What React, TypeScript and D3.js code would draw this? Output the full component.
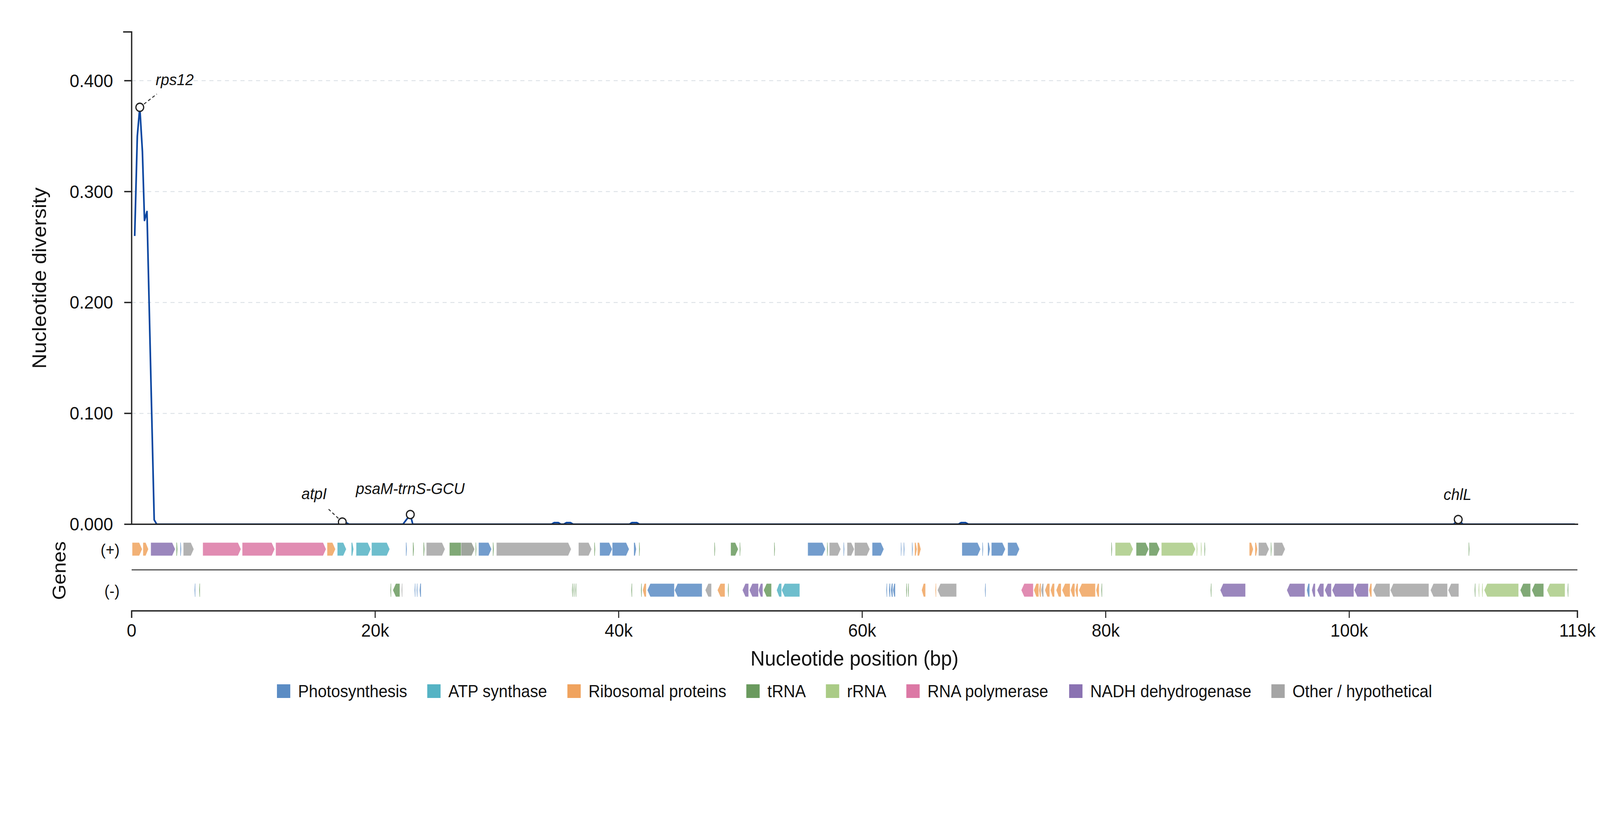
import React, { useMemo } from "react";
import * as d3 from "d3";

const genomeLength = 118740;

// sliding-window nucleotide diversity (window midpoint in bp, pi)
const windowPos = [
  250, 465, 669, 885, 1055, 1259, 1852, 2060,
  17000, 17300, 17500, 17860,
  22280, 22886, 23090,
  34490, 34700, 35040, 35250,
  35490, 35710, 36040, 36260,
  40880, 41090, 41490, 41700,
  67900, 68120, 68490, 68720,
  108570, 108950, 109330,
  118530,
];
const windowPi = [
  0.26, 0.35, 0.376, 0.336, 0.274, 0.282, 0.004, 0,
  0, 0.002, 0.002, 0,
  0, 0.0088, 0,
  0, 0.0014, 0.0014, 0,
  0, 0.0014, 0.0014, 0,
  0, 0.0014, 0.0014, 0,
  0, 0.0014, 0.0014, 0,
  0, 0.0043, 0,
  0,
];

// highlighted peaks
const peakGenes = ["rps12", "atpI", "psaM-trnS-GCU", "chlL"];
const peakPos = [669, 17300, 22886, 108950];
const peakPi = [0.376, 0.002, 0.0088, 0.0043];

const categoryKeys = ["photo", "atp", "ribo", "trna", "rrna", "rnap", "nadh", "other"];
const categoryNames = [
  "Photosynthesis",
  "ATP synthase",
  "Ribosomal proteins",
  "tRNA",
  "rRNA",
  "RNA polymerase",
  "NADH dehydrogenase",
  "Other / hypothetical",
];
const categoryColors = ["#5b8cc4", "#55b3c4", "#f0a35e", "#6a9a5e", "#aacb86", "#dc78a5", "#8a72b2", "#a5a5a5"];

// genes on the (+) strand: [start, end, category]
const plusGenes: [number, number, string][] = [
  [40, 870, "ribo"], [930, 1380, "ribo"], [1570, 3580, "nadh"], [3680, 3760, "trna"],
  [4000, 4070, "photo"], [4240, 5110, "other"], [5840, 8980, "rnap"], [9080, 11750, "rnap"],
  [11830, 15970, "rnap"], [16050, 16740, "ribo"], [16890, 17630, "atp"], [18040, 18230, "atp"],
  [18440, 19640, "atp"], [19700, 21200, "atp"], [22530, 22600, "photo"], [23100, 23180, "trna"],
  [23970, 24050, "trna"], [24200, 25740, "other"], [26100, 28170, "trna"], [27060, 28170, "other"],
  [28250, 28310, "trna"], [28490, 29560, "photo"], [29670, 29740, "trna"], [29960, 36100, "other"],
  [36700, 37780, "other"], [38000, 38070, "trna"], [38440, 39470, "photo"], [39470, 40860, "photo"],
  [41240, 41450, "photo"], [41680, 41740, "trna"], [47860, 47920, "trna"], [49200, 49820, "trna"],
  [49940, 50000, "trna"], [52770, 52830, "trna"], [55530, 56980, "photo"], [57120, 57180, "trna"],
  [57300, 58240, "other"], [58470, 58530, "photo"], [58760, 59350, "other"], [59370, 60630, "other"],
  [60820, 61780, "photo"], [63180, 63230, "photo"], [63410, 63470, "photo"], [64090, 64150, "photo"],
  [64310, 64500, "ribo"], [64540, 64820, "ribo"], [68190, 69720, "photo"], [69870, 69930, "photo"],
  [70310, 70500, "photo"], [70610, 71760, "photo"], [71950, 72920, "photo"], [80460, 80520, "trna"],
  [80780, 82250, "rrna"], [82500, 83530, "trna"], [83550, 84440, "trna"], [84570, 87370, "rrna"],
  [87470, 87530, "rrna"], [87820, 87880, "rrna"], [88110, 88170, "trna"], [91790, 92120, "ribo"],
  [92260, 92460, "ribo"], [92550, 93420, "other"], [93560, 93620, "trna"], [93800, 94740, "other"],
  [109810, 109870, "trna"],
];

// genes on the (-) strand: [start, end, category]
const minusGenes: [number, number, string][] = [
  [5170, 5230, "photo"], [5550, 5610, "trna"], [21250, 21310, "trna"], [21450, 22030, "trna"],
  [22170, 22230, "other"], [23240, 23300, "photo"], [23410, 23470, "photo"], [23650, 23760, "photo"],
  [36170, 36230, "trna"], [36300, 36360, "trna"], [36450, 36510, "trna"], [41040, 41100, "trna"],
  [41830, 41890, "trna"], [41970, 42260, "ribo"], [42350, 44570, "photo"], [44590, 46850, "photo"],
  [47110, 47620, "other"], [48110, 48730, "ribo"], [48970, 49030, "trna"], [50160, 50670, "nadh"],
  [50730, 51480, "nadh"], [51480, 51840, "nadh"], [51900, 52550, "trna"], [52970, 53380, "atp"],
  [53380, 54870, "atp"], [61980, 62040, "photo"], [62200, 62300, "photo"], [62360, 62500, "photo"],
  [62520, 62720, "photo"], [63610, 63670, "trna"], [63760, 63820, "trna"], [64880, 65200, "ribo"],
  [66010, 66070, "ribo"], [66180, 67750, "other"], [70080, 70140, "photo"], [73060, 74050, "rnap"],
  [74090, 74500, "ribo"], [74530, 74670, "ribo"], [74690, 74900, "other"], [75000, 75400, "ribo"],
  [75460, 75790, "ribo"], [75930, 76340, "ribo"], [76410, 77070, "ribo"], [77110, 77460, "ribo"],
  [77500, 77730, "ribo"], [77790, 79150, "ribo"], [79210, 79460, "ribo"], [79640, 79700, "trna"],
  [88620, 88680, "trna"], [89400, 91480, "nadh"], [94870, 96360, "nadh"], [96510, 96750, "photo"],
  [96920, 97210, "nadh"], [97360, 97910, "nadh"], [97980, 98530, "nadh"], [98590, 100380, "nadh"],
  [100410, 101570, "nadh"], [101620, 101850, "ribo"], [101960, 103340, "other"], [103370, 106540, "other"],
  [106670, 108070, "other"], [108120, 109000, "other"], [110300, 110360, "trna"], [110620, 110680, "rrna"],
  [110900, 110960, "rrna"], [111080, 113910, "rrna"], [114040, 114890, "trna"], [114990, 115970, "trna"],
  [116230, 117720, "rrna"], [117930, 117990, "trna"],
];

// label placement around each peak (px offsets from the point)
const labelLayout: Record<string, { dx: number; dy: number; anchor: string; leader?: [number, number] }> = {
  rps12: { dx: 43, dy: -57, anchor: "start", leader: [46, -34] },
  atpI: { dx: -76, dy: -59, anchor: "middle", leader: [-37, -33] },
  "psaM-trnS-GCU": { dx: 0, dy: -52, anchor: "middle" },
  chlL: { dx: -2, dy: -50, anchor: "middle" },
};

const FONT = '"Liberation Sans", Arial, sans-serif';
const W = 4322;
const H = 2102;
const left = 355.6;
const right = 4261;
const top = 81.7;
const zeroY = 1342.3;
const plusY = 1406;
const minusY = 1511;
const sepY = 1459;
const axisY = 1564;
const geneH = 34;
const lineColor = "#0d47a1";
const axisColor = "#222";

function genePath(x0: number, x1: number, yc: number, strand: number) {
  const w = Math.max(x1 - x0, 1.6);
  if (strand > 0) x1 = x0 + w;
  else x0 = x1 - w;
  const head = Math.min(8, w * 0.5);
  const t = yc - geneH / 2;
  const b = yc + geneH / 2;
  if (strand > 0) return `M${x0},${t}H${x1 - head}L${x1},${yc}L${x1 - head},${b}H${x0}Z`;
  return `M${x1},${t}H${x0 + head}L${x0},${yc}L${x0 + head},${b}H${x1}Z`;
}

export default function App() {
  const x = useMemo(() => d3.scaleLinear().domain([0, genomeLength]).range([left, right]), []);
  const y = useMemo(() => d3.scaleLinear().domain([0, 0.444]).range([zeroY, top]), []);
  const color = useMemo(() => d3.scaleOrdinal<string, string>().domain(categoryKeys).range(categoryColors), []);

  const linePath = useMemo(() => {
    const pts = windowPos.map((p, i) => [p, windowPi[i]] as [number, number]);
    return d3
      .line<[number, number]>()
      .x((d) => x(d[0]))
      .y((d) => y(d[1]))(pts);
  }, [x, y]);

  const yTicks = y.ticks(5);
  const xTicks = [...d3.range(0, genomeLength, 20000), genomeLength];
  const fmtY = d3.format(".3f");
  const fmtX = (v: number) => (v === 0 ? "0" : `${Math.round(v / 1000)}k`);

  // legend layout from measured text widths
  const legendFont = 43.5;
  const legend = useMemo(() => {
    const ctx = document.createElement("canvas").getContext("2d")!;
    ctx.font = `${legendFont}px ${FONT}`;
    const sw = 36;
    const gapText = 21;
    const gapItem = 54;
    const widths = categoryNames.map((n) => ctx.measureText(n).width);
    const total = widths.reduce((s, w) => s + sw + gapText + w, 0) + gapItem * (widths.length - 1);
    let cx = (left + right) / 2 - total / 2;
    return widths.map((w, i) => {
      const item = { x: cx, name: categoryNames[i], color: categoryColors[i] };
      cx += sw + gapText + w + gapItem;
      return item;
    });
  }, []);

  const renderGenes = (genes: [number, number, string][], strand: number, yc: number) =>
    genes.map(([s, e, c], i) => {
      const x0 = x(s);
      const x1 = x(e);
      return (
        <path
          key={`${strand}-${i}`}
          d={genePath(x0, x1, yc, strand)}
          fill={color(c)}
          fillOpacity={0.85}
          stroke={x1 - x0 > 6 ? "#fff" : "none"}
          strokeWidth={1}
          strokeOpacity={0.8}
        />
      );
    });

  return (
    <svg
      width="100vw"
      height="100vh"
      viewBox={`0 0 ${W} ${H}`}
      preserveAspectRatio="none"
      style={{ position: "fixed", top: 0, left: 0, background: "#fff", display: "block" }}
      fontFamily={FONT}
    >
      <defs>
        <clipPath id="plot-clip">
          <rect x={left - 30} y={0} width={right - left + 60} height={zeroY} />
        </clipPath>
      </defs>

      {/* grid */}
      {yTicks
        .filter((t) => t > 0)
        .map((t) => (
          <line key={t} x1={left} x2={right} y1={y(t)} y2={y(t)} stroke="#d7dde3" strokeWidth={2} strokeDasharray="11,10" />
        ))}

      {/* diversity line */}
      <g clipPath="url(#plot-clip)">
        <path d={linePath ?? ""} fill="none" stroke={lineColor} strokeWidth={4.5} strokeLinejoin="round" />
        {peakGenes.map((g, i) => {
          const px = x(peakPos[i]);
          const py = y(peakPi[i]);
          const lay = labelLayout[g];
          let leader = null;
          if (lay.leader) {
            const [lx, ly] = lay.leader;
            const len = Math.hypot(lx, ly);
            const r0 = 14;
            leader = (
              <line
                x1={px + (lx / len) * r0}
                y1={py + (ly / len) * r0}
                x2={px + lx}
                y2={py + ly}
                stroke="#333"
                strokeWidth={2.6}
                strokeDasharray="8,6"
              />
            );
          }
          return (
            <g key={g}>
              {leader}
              <circle cx={px} cy={py} r={10.5} fill="#fff" stroke={axisColor} strokeWidth={3.3} />
            </g>
          );
        })}
      </g>
      {peakGenes.map((g, i) => {
        const lay = labelLayout[g];
        return (
          <text
            key={g}
            x={x(peakPos[i]) + lay.dx}
            y={y(peakPi[i]) + lay.dy}
            textAnchor={lay.anchor}
            fontSize={41}
            fontStyle="italic"
            fill="#111"
          >
            {g}
          </text>
        );
      })}

      {/* y axis */}
      <g stroke={axisColor} fill="none">
        <path d={`M${left - 23},${top}H${left}V${zeroY}`} strokeWidth={3.5} />
        <line x1={left} x2={right + 2} y1={zeroY} y2={zeroY} strokeWidth={3.5} />
        {yTicks.map((t) => (
          <line key={t} x1={left - 20} x2={left} y1={y(t)} y2={y(t)} strokeWidth={3.5} />
        ))}
      </g>
      {yTicks.map((t) => (
        <text key={t} x={left - 50} y={y(t)} dy="0.34em" textAnchor="end" fontSize={47} fill="#111">
          {fmtY(t)}
        </text>
      ))}
      <text
        transform={`translate(125,${(top + zeroY) / 2}) rotate(-90)`}
        textAnchor="middle"
        fontSize={53.5}
        fill="#111"
      >
        Nucleotide diversity
      </text>

      {/* gene tracks */}
      <g>{renderGenes(plusGenes, 1, plusY)}</g>
      <g>{renderGenes(minusGenes, -1, minusY)}</g>
      <line x1={left} x2={right} y1={sepY} y2={sepY} stroke="#333" strokeWidth={2.6} />
      <text x={323} y={plusY} dy="0.4em" textAnchor="end" fontSize={41} fill="#111">
        (+)
      </text>
      <text x={323} y={minusY} dy="0.4em" textAnchor="end" fontSize={41} fill="#111">
        (-)
      </text>
      <text transform={`translate(177,${sepY + 2}) rotate(-90)`} textAnchor="middle" fontSize={51} fill="#111">
        Genes
      </text>

      {/* x axis */}
      <g stroke={axisColor} fill="none">
        <path d={`M${left},${axisY + 18}V${axisY}H${right}V${axisY + 18}`} strokeWidth={3.3} />
        {xTicks.map((t) => (
          <line key={t} x1={x(t)} x2={x(t)} y1={axisY} y2={axisY + 18} strokeWidth={2.8} />
        ))}
      </g>
      {xTicks.map((t) => (
        <text key={t} x={x(t)} y={1630} textAnchor="middle" fontSize={47} fill="#111">
          {fmtX(t)}
        </text>
      ))}
      <text x={(left + right) / 2} y={1704} textAnchor="middle" fontSize={53.5} fill="#111">
        Nucleotide position (bp)
      </text>

      {/* legend */}
      {legend.map((d) => (
        <g key={d.name}>
          <rect x={d.x} y={1752} width={36} height={35} fill={d.color} />
          <text x={d.x + 36 + 21} y={1785} fontSize={legendFont} fill="#111">
            {d.name}
          </text>
        </g>
      ))}
    </svg>
  );
}
